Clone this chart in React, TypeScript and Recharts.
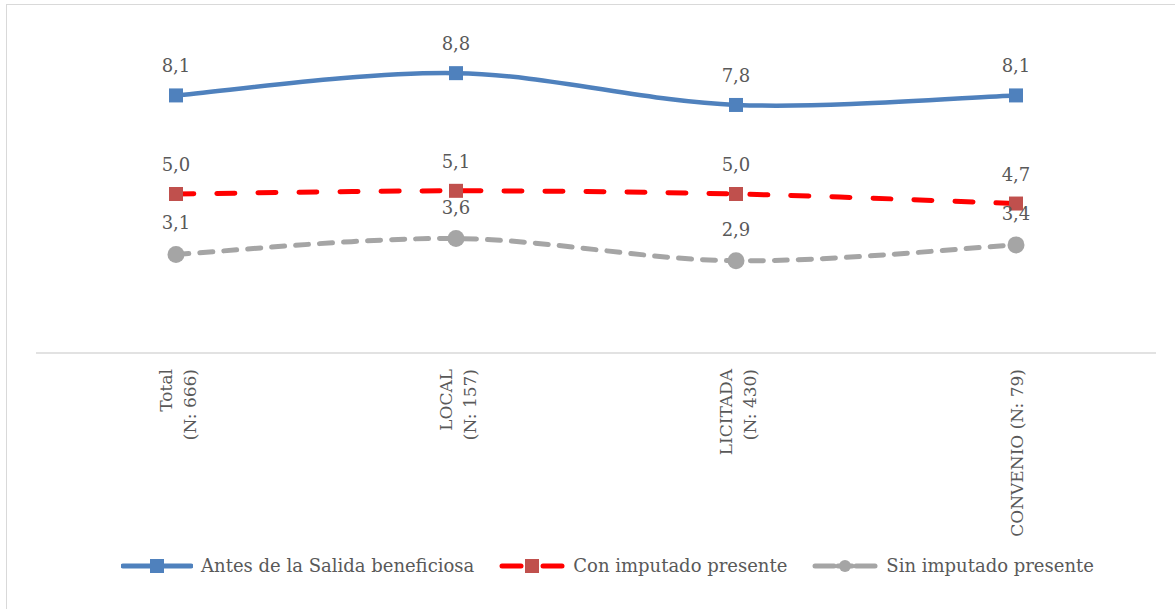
import React from "react";
import { CartesianGrid, LabelList, Legend, Line, LineChart, XAxis, YAxis } from "recharts";

const categories = ["Total", "LOCAL", "LICITADA", "CONVENIO"];
const tickLines = [["Total", "(N: 666)"], ["LOCAL", "(N: 157)"], ["LICITADA", "(N: 430)"], ["CONVENIO (N: 79)"]];
const antes = [8.1, 8.8, 7.8, 8.1];
const conImputado = [5.0, 5.1, 5.0, 4.7];
const sinImputado = [3.1, 3.6, 2.9, 3.4];

const series = [
  { key: "antes", name: "Antes de la Salida beneficiosa", color: "#4f81bd", marker: "#4f81bd", dash: undefined, shape: "square" },
  { key: "con", name: "Con imputado presente", color: "#ff0000", marker: "#c0504d", dash: "18 23", shape: "square" },
  { key: "sin", name: "Sin imputado presente", color: "#a5a5a5", marker: "#a5a5a5", dash: "13 11", shape: "circle" },
];

const data = categories.map((c, i) => ({
  name: c,
  antes: antes[i],
  con: conImputado[i],
  sin: sinImputado[i],
}));

const FONT = "'DejaVu Serif', serif";
const TEXT = "#595959";

// Excel-style smoothing (uniform Catmull-Rom through the points)
function excelCurve(context: any) {
  let pts: number[][] = [];
  return {
    areaStart() {},
    areaEnd() {},
    lineStart() {
      pts = [];
    },
    point(x: number, y: number) {
      pts.push([+x, +y]);
    },
    lineEnd() {
      if (!pts.length) return;
      context.moveTo(pts[0][0], pts[0][1]);
      for (let i = 0; i < pts.length - 1; i++) {
        const p0 = pts[i - 1] || pts[i];
        const p1 = pts[i];
        const p2 = pts[i + 1];
        const p3 = pts[i + 2] || p2;
        context.bezierCurveTo(
          p1[0] + (p2[0] - p0[0]) / 6,
          p1[1] + (p2[1] - p0[1]) / 6,
          p2[0] - (p3[0] - p1[0]) / 6,
          p2[1] - (p3[1] - p1[1]) / 6,
          p2[0],
          p2[1]
        );
      }
    },
  };
}

const makeDot = (fill: string, shape: string) => (props: any) => {
  const { cx, cy, index } = props;
  if (cx == null || cy == null) return <g key={index} />;
  if (shape === "circle") return <circle key={index} cx={cx} cy={cy} r={8.5} fill={fill} />;
  return <rect key={index} x={cx - 7} y={cy - 7} width={14} height={14} fill={fill} />;
};

const makeLabel = (gap: number) => (props: any) => {
  const { x, y, value, index } = props;
  return (
    <text key={index} x={x} y={y - gap} textAnchor="middle" fontFamily={FONT} fontSize={18} fill={TEXT}>
      {value.toFixed(1).replace(".", ",")}
    </text>
  );
};

const Tick = (props: any) => {
  const { x, y, payload } = props;
  const lines = tickLines[payload.index] || [payload.value];
  const offsets = lines.length === 2 ? [-4, 20] : [7];
  return (
    <g transform={`translate(${x},${y + 8})`}>
      <text transform="rotate(-90)" textAnchor="end" fontFamily={FONT} fontSize={17} fill={TEXT}>
        {lines.map((l, i) => (
          <tspan key={i} x={0} y={offsets[i]}>
            {l}
          </tspan>
        ))}
      </text>
    </g>
  );
};

const LegendIcon = ({ s }: { s: (typeof series)[number] }) => {
  const w = s.dash ? 66 : 72;
  const mid = w / 2;
  return (
    <svg width={w} height={16} style={{ display: "block" }}>
      {s.dash ? (
        <>
          <line x1={3} y1={8} x2={22} y2={8} stroke={s.color} strokeWidth={5} strokeLinecap="round" />
          <line x1={w - 22} y1={8} x2={w - 3} y2={8} stroke={s.color} strokeWidth={5} strokeLinecap="round" />
          {s.shape === "circle" ? (
            <>
              <line x1={26} y1={8} x2={w - 26} y2={8} stroke={s.color} strokeWidth={5} strokeLinecap="round" />
              <circle cx={mid} cy={8} r={6} fill={s.marker} />
            </>
          ) : (
            <rect x={mid - 7} y={1} width={14} height={14} fill={s.marker} />
          )}
        </>
      ) : (
        <>
          <line x1={2} y1={8} x2={w - 2} y2={8} stroke={s.color} strokeWidth={5} strokeLinecap="round" />
          <rect x={mid - 7} y={1} width={14} height={14} fill={s.marker} />
        </>
      )}
    </svg>
  );
};

const renderLegend = () => (
  <div style={{ display: "flex", justifyContent: "center", alignItems: "center", gap: 25, paddingLeft: 23, fontFamily: FONT, fontSize: 18, color: TEXT }}>
    {series.map((s) => (
      <div key={s.key} style={{ display: "flex", alignItems: "center", gap: 8 }}>
        <LegendIcon s={s} />
        <span>{s.name}</span>
      </div>
    ))}
  </div>
);

export default function App() {
  return (
    <div style={{ position: "absolute", left: 0, top: 0, width: 1175, height: 609, background: "#fff" }}>
      <div style={{ position: "absolute", left: 6, top: 4, right: -2, bottom: -2, borderLeft: "1.5px solid #d9d9d9", borderTop: "1.5px solid #d9d9d9" }} />
      <LineChart width={1175} height={609} data={data} margin={{ top: 35, right: 19, left: 36, bottom: 24 }}>
        <CartesianGrid horizontal={false} vertical={false} />
        <XAxis
          dataKey="name"
          interval={0}
          height={202}
          padding={{ left: 140, right: 140 }}
          axisLine={{ stroke: "#d9d9d9", strokeWidth: 1.5 }}
          tickLine={false}
          tick={<Tick />}
        />
        <YAxis hide domain={[0, 10]} />
        <Legend verticalAlign="bottom" height={30} content={renderLegend} />
        {series.map((s) => (
          <Line
            key={s.key}
            dataKey={s.key}
            name={s.name}
            type={excelCurve as any}
            stroke={s.color}
            strokeWidth={s.dash ? 5 : 4.5}
            strokeDasharray={s.dash}
            strokeLinecap="round"
            dot={makeDot(s.marker, s.shape)}
            activeDot={false}
            isAnimationActive={false}
          >
            <LabelList dataKey={s.key} content={makeLabel(s.shape === "circle" ? 25 : 23)} />
          </Line>
        ))}
      </LineChart>
    </div>
  );
}
